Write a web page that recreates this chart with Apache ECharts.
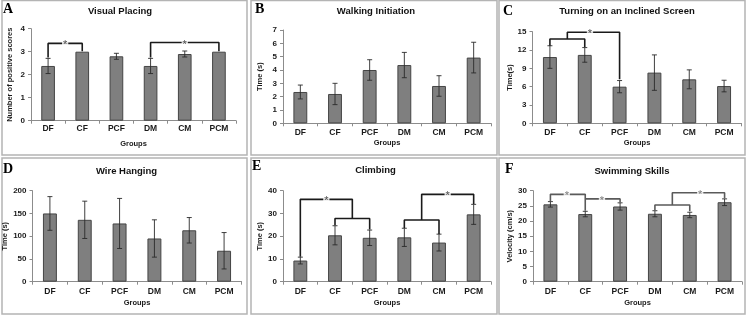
<!DOCTYPE html>
<html><head><meta charset="utf-8">
<script src="https://cdn.jsdelivr.net/npm/echarts@6/dist/echarts.min.js"></script>
<style>html,body{margin:0;padding:0;background:#fff}#c{width:750px;height:319px}</style>
</head><body><div id="c"></div>
<script>
// ---- data ----
const categories = ['DF','CF','PCF','DM','CM','PCM'];
const visualPlacing = [2.38, 3.0, 2.8, 2.38, 2.9, 3.0];
const visualPlacingErr = [0.33, 0, 0.13, 0.33, 0.13, 0];
const walkingInitiation = [2.35, 2.2, 4.0, 4.37, 2.8, 4.93];
const walkingInitiationErr = [0.52, 0.8, 0.77, 0.95, 0.77, 1.15];
const turning = [10.85, 11.2, 6.0, 8.3, 7.2, 6.1];
const turningErr = [1.85, 1.2, 1.0, 2.9, 1.55, 0.95];
const wireHanging = [150, 136, 128, 95, 113, 68];
const wireHangingErr = [37, 41, 55, 41, 28, 40];
const climbing = [9.3, 20.4, 19.3, 19.5, 17.2, 29.6];
const climbingErr = [1.5, 4.2, 3.4, 4.0, 3.7, 4.4];
const swimming = [25.5, 22.3, 24.8, 22.4, 22.0, 26.2];
const swimmingErr = [0.9, 0.9, 1.2, 1.0, 0.9, 1.1];
const yTicksMax = [4, 7, 15, 200, 40, 30];
const yTicksStep = [1, 1, 3, 50, 10, 5];
// significance brackets: [category index, value] paths, and star positions
const sigA = [[[0,2.75],[0,3.36],[1,3.36],[1,3.02]], [[3,2.75],[3,3.4],[5,3.4],[5,3.02]]];
const starA = [[0.5,3.36],[4,3.4]];
const sigC = [[[0,12.7],[0,13.8],[1,13.8],[1,12.5]], [[0.5,13.8],[0.5,14.9],[2,14.9],[2,7.2]]];
const starC = [[1.15,14.9]];
const sigE = [[[0,11.0],[0,36.2],[1.5,36.2],[1.5,27.8]], [[1,24.8],[1,27.8],[2,27.8],[2,22.9]],
              [[3,23.6],[3,27.1],[4,27.1],[4,21.0]], [[3.5,27.1],[3.5,38.4],[5,38.4],[5,34.2]]];
const starE = [[0.75,36.2],[4.25,38.4]];
const sigF = [[[0,26.5],[0,28.8],[1,28.8],[1,23.4]], [[1,27.3],[2,27.3],[2,26.1]],
              [[3,23.6],[3,25.3],[4,25.3],[4,23.2]], [[3.5,25.3],[3.5,29.3],[5,29.3],[5,27.4]]];
const starF = [[0.47,28.8],[1.48,27.3],[4.3,29.3]];

const titles = ['Visual Placing','Walking Initiation','Turning on an Inclined Screen','Wire Hanging','Climbing','Swimming Skills'];
const letters = ['A','B','C','D','E','F'];
const yNames = ['Number of positive scores','Time (s)','Time(s)','Time (s)','Time (s)','Velocity (cm/s)'];

// ---- layout ----
const values = [visualPlacing, walkingInitiation, turning, wireHanging, climbing, swimming];
const errs = [visualPlacingErr, walkingInitiationErr, turningErr, wireHangingErr, climbingErr, swimmingErr];
const sigs = [sigA, [], sigC, [], sigE, sigF];
const stars = [starA, [], starC, [], starE, starF];
const sigColor = ['#1a1a1a','#1a1a1a','#1a1a1a','#1a1a1a','#1a1a1a','#5a5a5a'];
const grids = [
  {left:31, top:28.7, width:205, height:92},
  {left:283, top:30, width:208, height:93.3},
  {left:532.5, top:31.7, width:209, height:91.6},
  {left:32.5, top:190.7, width:209, height:91},
  {left:283, top:190.7, width:208, height:91},
  {left:533, top:190.7, width:209, height:91}
];
const boxes = [[2,0.5,247,155],[251,0.5,497,155],[499,0.5,745,155],[2,158,247,314],[251,158,497,314],[499,158,745,314]];
const titlePos = [[120,11],[376,11],[627,11],[126.5,171],[375.5,170],[632,171]];
const letterPos = [[3,9],[255,9],[503,11],[3,169],[252,166],[505,169]];
const yNameX = [10,260,510,10,260,510];
const xLabelMargin = [3,5,5,5,5,5];
const groupsGap = [19,16,16,17,17,17];

const chart = echarts.init(document.getElementById('c'), null, {renderer:'canvas'});
const option = {animation:false, grid:[], xAxis:[], yAxis:[], series:[], graphic:[]};
const font = 'Liberation Sans, Arial, sans-serif';

for (let p = 0; p < 6; p++) {
  const g = grids[p];
  option.grid.push({left:g.left, top:g.top, width:g.width, height:g.height, containLabel:false});
  option.xAxis.push({type:'category', gridIndex:p, data:categories,
    axisLine:{onZero:false, lineStyle:{color:'#8c8c8c', width:1}},
    axisTick:{show:true, alignWithLabel:false, length:3, lineStyle:{color:'#8c8c8c'}},
    axisLabel:{color:'#1a1a1a', fontSize:8.5, fontWeight:'bold', fontFamily:font, margin:xLabelMargin[p]},
    name:'Groups', nameLocation:'middle', nameGap:groupsGap[p],
    nameTextStyle:{color:'#1a1a1a', fontSize:7.5, fontWeight:'bold', fontFamily:font}});
  option.xAxis.push({type:'value', gridIndex:p, min:-0.5, max:5.5, show:false});
  option.yAxis.push({type:'value', gridIndex:p, min:0, max:yTicksMax[p], interval:yTicksStep[p],
    splitLine:{show:false},
    axisLine:{show:true, onZero:false, lineStyle:{color:'#8c8c8c', width:1}},
    axisTick:{show:true, length:3, lineStyle:{color:'#8c8c8c'}},
    axisLabel:{color:'#1a1a1a', fontSize:8, fontWeight:'bold', fontFamily:font, margin:6},
    name:yNames[p], nameLocation:'middle', nameGap:(g.left - yNameX[p]) - 4, nameRotate:90,
    nameTextStyle:{color:'#1a1a1a', fontSize:7.5, fontWeight:'bold', fontFamily:font}});
  const xCat = 2*p, xVal = 2*p+1;
  option.series.push({type:'bar', xAxisIndex:xCat, yAxisIndex:p, data:values[p], barWidth:'40%',
    itemStyle:{color:'#7f7f7f', borderColor:'#454545', borderWidth:1}, silent:true});
  const ebData = values[p].map((v,i)=>[i, v - errs[p][i], v + errs[p][i]]).filter((d,i)=>errs[p][i] > 0);
  option.series.push({type:'custom', xAxisIndex:xVal, yAxisIndex:p, data:ebData, silent:true, z:5,
    renderItem:function(params, api){
      const top = api.coord([api.value(0), api.value(2)]);
      const bot = api.coord([api.value(0), api.value(1)]);
      const hw = 2.5;
      const st = {stroke:'#2a2a2a', lineWidth:0.9};
      return {type:'group', children:[
        {type:'line', shape:{x1:top[0], y1:top[1], x2:bot[0], y2:bot[1]}, style:st},
        {type:'line', shape:{x1:top[0]-hw, y1:top[1], x2:top[0]+hw, y2:top[1]}, style:st},
        {type:'line', shape:{x1:bot[0]-hw, y1:bot[1], x2:bot[0]+hw, y2:bot[1]}, style:st}
      ]};
    }});
  sigs[p].forEach(path => {
    option.series.push({type:'line', xAxisIndex:xVal, yAxisIndex:p, data:path, symbol:'none', silent:true, z:6,
      lineStyle:{color:sigColor[p], width:1.6}});
  });
  if (stars[p].length) {
    option.series.push({type:'scatter', xAxisIndex:xVal, yAxisIndex:p, data:stars[p], symbolSize:0, silent:true, z:7,
      label:{show:true, position:'inside', formatter:'*', color:sigColor[p], fontSize:11, fontFamily:font,
        backgroundColor:'#fff', padding:[0,1,0,1], offset:[0,2]}});
  }
  const b = boxes[p];
  option.graphic.push({type:'rect', shape:{x:b[0], y:b[1], width:b[2]-b[0], height:b[3]-b[1]},
    style:{fill:'none', stroke:'#b4b4b4', lineWidth:1.5}, silent:true});
  option.graphic.push({type:'text', x:titlePos[p][0], y:titlePos[p][1],
    style:{text:titles[p], fill:'#111', font:'bold 9.5px ' + font, textAlign:'center', textVerticalAlign:'middle'}});
  option.graphic.push({type:'text', x:letterPos[p][0], y:letterPos[p][1],
    style:{text:letters[p], fill:'#000', font:'bold 14px Liberation Serif, Times New Roman, serif', textAlign:'left', textVerticalAlign:'middle'}});
}
chart.setOption(option);
</script>
</body></html>
